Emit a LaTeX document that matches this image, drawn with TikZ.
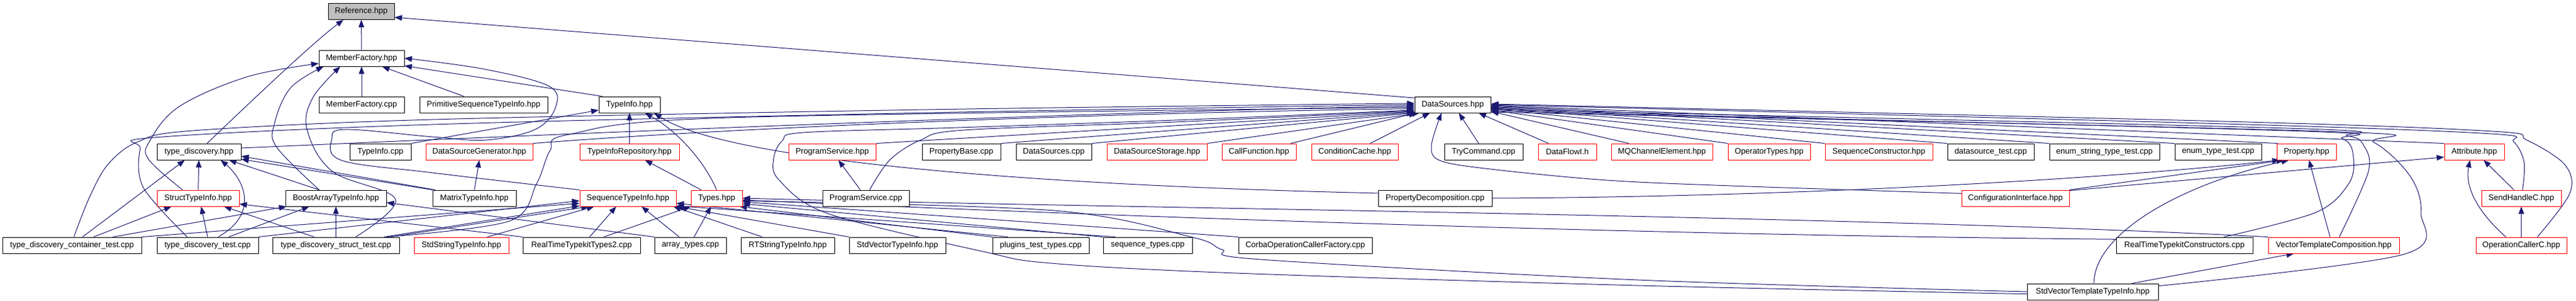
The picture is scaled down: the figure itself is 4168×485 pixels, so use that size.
\documentclass[tikz,border=0pt]{standalone}
\usepackage{fontspec}
\setmainfont{Liberation Sans}
\usetikzlibrary{arrows.meta,calc}
\definecolor{edgec}{HTML}{191970}
\definecolor{refgray}{HTML}{BFBFBF}
\pgfdeclarelayer{bg}
\pgfsetlayers{bg,main}
\begin{document}
\begin{tikzpicture}[x=1pt,y=-1pt,
  box/.style={draw=black,line width=0.9pt,rectangle,minimum height=26pt,inner sep=0pt,fill=white,font=\fontsize{13}{15}\selectfont},
  redbox/.style={box,draw=red},
  e/.style={draw=edgec,line width=1pt,-{Triangle[length=12pt,width=9pt]}},
  sm/.style={smooth,tension=0.55}]
\useasboundingbox (0,0) rectangle (4168,485);
% row 1
\node[box,fill=refgray,minimum width=107pt] (R) at (584.5,18.5) {Reference.hpp};
% row 2
\node[box,minimum width=138pt] (MFh) at (585,94) {MemberFactory.hpp};
% row 3
\node[box,minimum width=138pt] (MFc) at (585,169) {MemberFactory.cpp};
\node[box,minimum width=207pt] (PSTI) at (782.5,169) {PrimitiveSequenceTypeInfo.hpp};
\node[box,minimum width=99pt] (TIh) at (1018.5,169) {TypeInfo.hpp};
\node[box,minimum width=123pt] (DS) at (2350.5,169) {DataSources.hpp};
% row 4
\node[box,minimum width=136pt] (TD) at (322,245) {type\_discovery.hpp};
\node[box,minimum width=99pt] (TIc) at (615.5,245) {TypeInfo.cpp};
\node[redbox,minimum width=173pt] (DSG) at (775.5,245) {DataSourceGenerator.hpp};
\node[redbox,minimum width=161pt] (TIR) at (1018.5,245) {TypeInfoRepository.hpp};
\node[redbox,minimum width=141pt] (PSh) at (1346.5,245) {ProgramService.hpp};
\node[box,minimum width=127pt] (PB) at (1555.5,245) {PropertyBase.cpp};
\node[box,minimum width=122pt] (DSc) at (1705,245) {DataSources.cpp};
\node[redbox,minimum width=162pt] (DSS) at (1872,245) {DataSourceStorage.hpp};
\node[redbox,minimum width=120pt] (CF) at (2037,245) {CallFunction.hpp};
\node[redbox,minimum width=140pt] (CC) at (2192,245) {ConditionCache.hpp};
\node[box,minimum width=127pt] (TC) at (2400.5,245) {TryCommand.cpp};
\node[redbox,minimum width=94pt] (DF) at (2536,245) {DataFlowI.h};
\node[redbox,minimum width=164pt] (MQ) at (2689,245) {MQChannelElement.hpp};
\node[redbox,minimum width=133pt] (OT) at (2862.5,245) {OperatorTypes.hpp};
\node[redbox,minimum width=174pt] (SC) at (3040,245) {SequenceConstructor.hpp};
\node[box,minimum width=140pt] (DST) at (3221,245) {datasource\_test.cpp};
\node[box,minimum width=178pt] (EST) at (3405,245) {enum\_string\_type\_test.cpp};
\node[box,minimum width=140pt] (ET) at (3589,245) {enum\_type\_test.cpp};
\node[redbox,minimum width=96pt] (Prop) at (3732,245) {Property.hpp};
\node[redbox,minimum width=97pt] (Attr) at (4003.5,245) {Attribute.hpp};
% row 5
\node[redbox,minimum width=133pt] (STI) at (320.5,320) {StructTypeInfo.hpp};
\node[box,minimum width=163pt] (BATI) at (543.5,320) {BoostArrayTypeInfo.hpp};
\node[box,minimum width=135pt] (MTI) at (767.5,320) {MatrixTypeInfo.hpp};
\node[redbox,minimum width=156pt] (SeqTI) at (1016,320) {SequenceTypeInfo.hpp};
\node[redbox,minimum width=83pt] (Ty) at (1159.5,320) {Types.hpp};
\node[box,minimum width=140pt] (PSc) at (1401,320) {ProgramService.cpp};
\node[box,minimum width=184pt] (PD) at (2322,320) {PropertyDecomposition.cpp};
\node[redbox,minimum width=174pt] (CI) at (3261,320) {ConfigurationInterface.hpp};
\node[redbox,minimum width=129pt] (SH) at (4079.5,320) {SendHandleC.hpp};
% row 6
\node[box,minimum width=225pt] (TDCT) at (116.5,396) {type\_discovery\_container\_test.cpp};
\node[box,minimum width=164pt] (TDT) at (336,396) {type\_discovery\_test.cpp};
\node[box,minimum width=205pt] (TDST) at (543.5,396) {type\_discovery\_struct\_test.cpp};
\node[redbox,minimum width=153pt] (SSTI) at (746.5,396) {StdStringTypeInfo.hpp};
\node[box,minimum width=190pt] (RTT2) at (941,396) {RealTimeTypekitTypes2.cpp};
\node[box,minimum width=116pt] (AT) at (1117,396) {array\_types.cpp};
\node[box,minimum width=151pt] (RTSTI) at (1274.5,396) {RTStringTypeInfo.hpp};
\node[box,minimum width=156pt] (SVTI) at (1452,396) {StdVectorTypeInfo.hpp};
\node[box,minimum width=156pt] (PTT) at (1684,396) {plugins\_test\_types.cpp};
\node[box,minimum width=144pt] (ST) at (1857,396) {sequence\_types.cpp};
\node[box,minimum width=216pt] (COCF) at (2112,396) {CorbaOperationCallerFactory.cpp};
\node[box,minimum width=221pt] (RTKC) at (3534.5,396) {RealTimeTypekitConstructors.cpp};
\node[redbox,minimum width=212pt] (VTC) at (3776,396) {VectorTemplateComposition.hpp};
\node[redbox,minimum width=147pt] (OCC) at (4079.5,396) {OperationCallerC.hpp};
% row 7
\node[box,minimum width=212pt] (SVTTI) at (3386,471) {StdVectorTemplateTypeInfo.hpp};

\begin{pgfonlayer}{bg}
\fill[white] (0,0) rectangle (4168,485);
% into Reference
\draw[e] (MFh) -- (R);
\draw[e] ([xshift=13pt]TD.north) .. controls (410,160) and (505,70) .. (R.-155);
\draw[e] (DS.170) -- (R.-10);
% into MemberFactory
\draw[e] (MFc) -- (MFh);
\draw[e] ([xshift=-32pt]PSTI.north) -- (MFh.-22);
\draw[e] ([xshift=6pt]TIh.north west) -- (MFh.-10);
\draw[e] plot[smooth,tension=0.6] coordinates {(SeqTI.north west) (700,279) (553,259) (537,224) (560,209) (700,221) (788,226) (868,208) (900,170) (886,138) (780,111) (MFh.east)};
\draw[e] plot[smooth,tension=0.6] coordinates {([xshift=-25pt]STI.north) (241,258) (242,228) (290,172) (400,124) (MFh.187)};
\draw[e] plot[smooth,tension=0.6] coordinates {([xshift=-27pt]BATI.north) (448,238) (444,200) (470,142) ([xshift=8pt]MFh.south west)};
\draw[e] plot[smooth,tension=0.6] coordinates {([xshift=32pt]TDST.north) (640,322) (538,277) (497,210) (506,158) ([xshift=35pt]MFh.south west)};
% into TypeInfo.hpp
\draw[e] (TIc.north east) -- (TIh.190);
\draw[e] (TIR) -- (TIh);
\draw[e] (Ty.north) .. controls (1135,250) and (1085,205) .. ([xshift=25pt]TIh.south);
\draw[e] (PD.175) .. controls (1700,300) and (1180,262) .. ([xshift=-10pt]TIh.south east);
\draw[e] ([xshift=-25pt]Ty.north) -- ([xshift=25pt]TIR.south);
\draw[e] (MTI.north) -- (DSG.south);
% into type_discovery
\draw[e] (MTI.north west) -- (TD.-10);
\draw[e] (MTI.168) -- (TD.-6);
\draw[e] ([xshift=-27pt]BATI.north) -- ([xshift=-20pt]TD.south east);
\draw[e] (STI) -- (TD);
\draw[e] ([xshift=17pt]TDCT.north) -- ([xshift=-23pt]TD.south);
\draw[e] ([xshift=17pt]TDT.north) .. controls (420,345) and (395,290) .. ([xshift=35pt]TD.south);
% into StructTypeInfo
\draw[e] ([xshift=35pt]TDCT.north) -- ([xshift=-43pt]STI.south);
\draw[e] (TDT.north) -- ([xshift=5pt]STI.south);
\draw[e] ([xshift=-35pt]TDST.north) -- ([xshift=-25pt]STI.south east);
\draw[e] (RTT2.north west) -- (STI.-8);
% into BoostArrayTypeInfo
\draw[e] ([xshift=66pt]TDCT.north) -- ([xshift=2pt]BATI.south west);
\draw[e] ([xshift=34pt]TDT.north) -- ([xshift=-43pt]BATI.south);
\draw[e] (TDST) -- (BATI);
\draw[e] (AT.north west) -- (BATI.-5);
% into SequenceTypeInfo
\draw[e] (TDCT.north east) -- (SeqTI.186);
\draw[e] (TDT.north east) -- (SeqTI.183);
\draw[e] ([xshift=-25pt]TDST.north east) -- (SeqTI.189);
\draw[e] ([xshift=-15pt]TDST.north east) -- (SeqTI.192);
\draw[e] ([xshift=-35pt]SSTI.north east) -- ([xshift=24pt]SeqTI.south west);
\draw[e] ([xshift=13pt]RTT2.north) -- ([xshift=-19pt]SeqTI.south);
\draw[e] ([xshift=-18pt]AT.north) -- ([xshift=22pt]SeqTI.south);
\draw[e] ([xshift=-41pt]RTSTI.north) -- ([xshift=-5pt]SeqTI.south east);
\draw[e] (SVTI.north west) -- (SeqTI.south east);
\draw[e] ([xshift=25pt]PTT.north west) -- (SeqTI.-6);
\draw[e] ([xshift=20pt]ST.north west) -- (SeqTI.-9);
% into Types
\draw[e] ([xshift=36pt]RTT2.north) -- (Ty.south west);
\draw[e] ([xshift=6pt]AT.north) -- ([xshift=-9pt]Ty.south);
\draw[e] (PTT.north west) -- (Ty.-20);
\draw[e] (ST.north west) -- (Ty.-12);
\draw[e] (COCF.north west) -- (Ty.-8);
\draw[e] (RTKC.175) .. controls (2500,378) and (1600,340) .. (Ty.-4);
\draw[e] (VTC.north west) .. controls (3000,348) and (1800,336) .. (Ty.0);
\draw[e] plot[sm] coordinates {(SVTTI.west) (2650,452) (2040,419) (1977,403) (1929,383) (1706,340) (Ty.-6)};
% ProgramService
\draw[e] ([xshift=-9pt]PSc.north) -- ([xshift=10pt]PSh.south);
% into DataSources from the left
\draw[e] plot[sm] coordinates {([xshift=3pt]TDCT.north) (145,318) (175,265) (223,229) (312,211) (700,193) (1500,177) (DS.178)};
\draw[e] plot[sm] coordinates {([xshift=-33pt]TDT.north) (232,303) (227,240) (250,222) (700,201) (1500,182) (DS.180)};
\draw[e] (TD.5) .. controls (1000,212) and (1800,180) .. (DS.182);
\draw[e] plot[sm] coordinates {([xshift=-21pt]TDST.north east) (824,357) (868,297) (890,243) (921,217) (1180,190) (DS.184)};
\draw[e] (DSG.north east) .. controls (1200,205) and (1800,182) .. (DS.186);
\draw[e] plot[sm] coordinates {(SVTTI.182) (2650,461) (2000,441) (1700,425) (1590,406) (1340,345) (1260,290) (1252,255) (1266,227) (1300,214) (1550,206) (1900,194) (DS.188)};
\draw[e] plot[sm] coordinates {([xshift=6pt]PSc.north) (1440,258) (1490,226) (1560,210) (1900,197) (DS.189)};
\draw[e] (PSh.north east) -- (DS.190);
\draw[e] (PB.north east) -- (DS.191);
\draw[e] (DSc.north east) -- (DS.192);
\draw[e] (DSS.north east) -- (DS.194);
\draw[e] ([xshift=-9pt]CF.north east) -- ([xshift=3pt]DS.south west);
\draw[e] ([xshift=25pt]CC.north) -- ([xshift=25pt]DS.south west);
% into DataSources from below and the right
\draw[e] ([xshift=-8pt]TC.north) -- ([xshift=10pt]DS.south);
\draw[e] ([xshift=17pt]DF.north west) -- ([xshift=-20pt]DS.south east);
\draw[e] ([xshift=29pt]MQ.north west) -- (DS.-10);
\draw[e] (OT.north west) -- (DS.-8);
\draw[e] (SC.north west) -- (DS.-6);
\draw[e] (DST.north west) -- (DS.-5);
\draw[e] (EST.north west) -- (DS.-4);
\draw[e] (ET.north west) -- (DS.-3);
\draw[e] ([xshift=2pt]Prop.north west) -- (DS.-2);
\draw[e] (Attr.north west) -- (DS.-1);
\draw[e] plot[sm] coordinates {([xshift=2pt]SH.north) (4084,262) (4067,229) (4030,216) (3600,200) (DS.0)};
\draw[e] plot[sm] coordinates {([xshift=-48pt]OCC.north east) (4158,312) (4150,266) (4088,226) (4033,212) (3600,196) (DS.1)};
\draw[e] plot[sm] coordinates {([xshift=9pt]VTC.north) (3832,277) (3824,234) (3798,219) (3700,207) (DS.-7)};
\draw[e] plot[sm] coordinates {([xshift=-47pt]RTKC.north east) (3747,343) (3800,297) (3808,255) (3790,224) (3700,211) (DS.-9)};
\draw[e] plot[sm] coordinates {(SVTTI.5) (3888,411) (3917,343) (3900,285) (3841,230) (3760,212) (DS.-11)};
\draw[e] plot[sm] coordinates {(CI.175) (2800,300) (2600,291) (2420,274) (2332,260) (2316,236) ([xshift=-18pt]DS.south)};
% into Property / Attribute / SendHandleC / VectorTemplateComposition
\draw[e] (PD.east) .. controls (2900,318) and (3400,290) .. ([xshift=5pt]Prop.south west);
\draw[e] (CI.north east) -- ([xshift=12pt]Prop.south west);
\draw[e] (CI.8) -- (Attr.190);
\draw[e] ([xshift=-6pt]VTC.north) -- ([xshift=4pt]Prop.south);
\draw[e] ([xshift=2pt]SVTTI.north) .. controls (3388,380) and (3520,300) .. ([xshift=20pt]Prop.south west);
\draw[e] ([xshift=-43pt]SVTTI.north east) -- ([xshift=42pt]VTC.south west);
\draw[e] ([xshift=-12pt]SH.north) -- ([xshift=15pt]Attr.south);
\draw[e] ([xshift=-25pt]OCC.north) .. controls (3995,330) and (3990,290) .. ([xshift=-7pt]Attr.south);
\draw[e] (OCC) -- (SH);
\end{pgfonlayer}
\end{tikzpicture}
\end{document}
